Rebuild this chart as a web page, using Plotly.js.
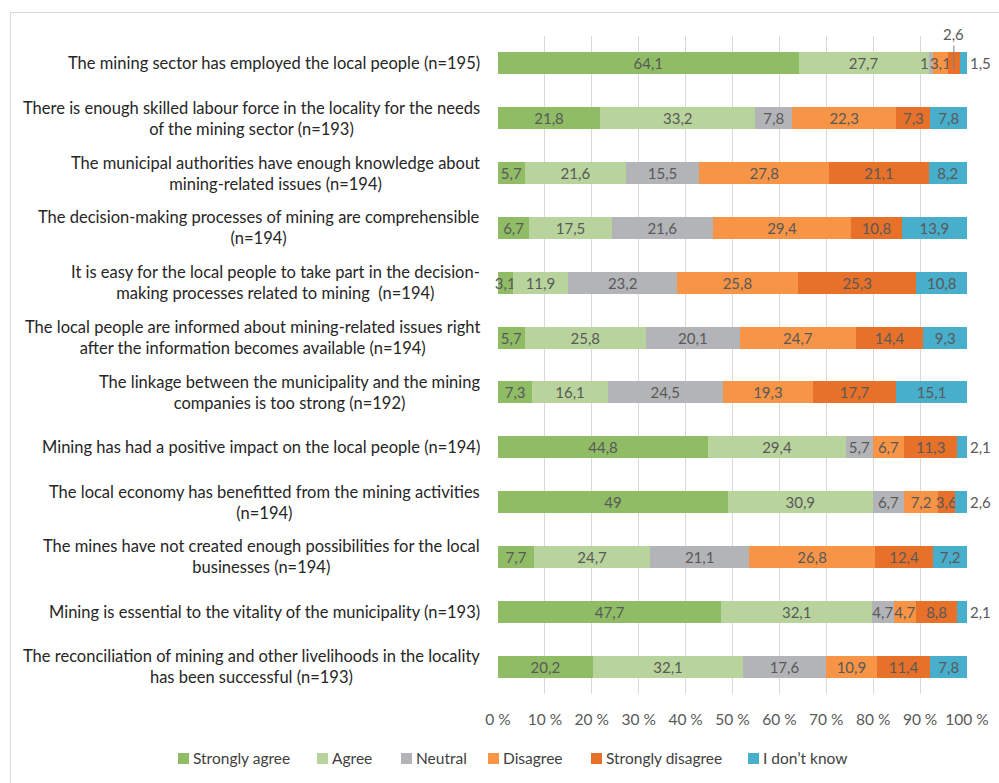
<!DOCTYPE html>
<html>
<head>
<meta charset="utf-8">
<script src="https://cdn.plot.ly/plotly-3.0.1.min.js"></script>
<style>
html,body{margin:0;padding:0;background:#fff;width:999px;height:783px;overflow:hidden;}
#frame{position:absolute;left:10px;top:12px;width:1000px;height:800px;border:1px solid #d9d9d9;box-sizing:border-box;}
#chart{position:absolute;left:0;top:0;width:999px;height:783px;}
</style>
</head>
<body>
<div id="frame"></div>
<div id="chart"></div>
<script>
const categories = [
  "The mining sector has employed the local people (n=195)",
  "There is enough skilled labour force in the locality for the needs<br>of the mining sector (n=193)",
  "The municipal authorities have enough knowledge about<br>mining-related issues (n=194)",
  "The decision-making processes of mining are comprehensible<br>(n=194)",
  "It is easy for the local people to take part in the decision-<br>making processes related to mining  (n=194)",
  "The local people are informed about mining-related issues right<br>after the information becomes available (n=194)",
  "The linkage between the municipality and the mining<br>companies is too strong (n=192)",
  "Mining has had a positive impact on the local people (n=194)",
  "The local economy has benefitted from the mining activities<br>(n=194)",
  "The mines have not created enough possibilities for the local<br>businesses (n=194)",
  "Mining is essential to the vitality of the municipality (n=193)",
  "The reconciliation of mining and other livelihoods in the locality<br>has been successful (n=193)"
];
const stronglyAgree    = [64.1, 21.8, 5.7, 6.7, 3.1, 5.7, 7.3, 44.8, 49, 7.7, 47.7, 20.2];
const agree            = [27.7, 33.2, 21.6, 17.5, 11.9, 25.8, 16.1, 29.4, 30.9, 24.7, 32.1, 32.1];
const neutral          = [1, 7.8, 15.5, 21.6, 23.2, 20.1, 24.5, 5.7, 6.7, 21.1, 4.7, 17.6];
const disagree         = [3.1, 22.3, 27.8, 29.4, 25.8, 24.7, 19.3, 6.7, 7.2, 26.8, 4.7, 10.9];
const stronglyDisagree = [2.6, 7.3, 21.1, 10.8, 25.3, 14.4, 17.7, 11.3, 3.6, 12.4, 8.8, 11.4];
const dontKnow         = [1.5, 7.8, 8.2, 13.9, 10.8, 9.3, 15.1, 2.1, 2.6, 7.2, 2.1, 7.8];
const seriesNames = ["Strongly agree", "Agree", "Neutral", "Disagree", "Strongly disagree", "I don\u2019t know"];
const xTicks = [0, 10, 20, 30, 40, 50, 60, 70, 80, 90, 100];

const seriesValues = [stronglyAgree, agree, neutral, disagree, stronglyDisagree, dontKnow];
const colors = ["#8fbc65", "#b8d49c", "#b3b4b7", "#f79446", "#e8712a", "#47aecb"];
const FONT = "Lato, 'Open Sans', sans-serif";
const fmt = v => String(v).replace('.', ',');

// plot area geometry (pixels)
const PL = 498, PR = 967, PT = 36, PB = 694;
const toPaperX = px => (px - PL) / (PR - PL);
const toPaperY = py => (PB - py) / (PB - PT);

const rowTotal = i => seriesValues.reduce((s, arr) => s + arr[i], 0);
const startOf = (si, i) => {
  let s = 0;
  for (let k = 0; k < si; k++) s += seriesValues[k][i];
  return 100 * s / rowTotal(i);
};

const traces = [];
const annotations = [];
const shapes = [];
const valFont = {family: FONT, size: 15, color: '#595959'};
seriesValues.forEach((vals, si) => {
  const texts = vals.map((v, i) => {
    if ((si === 5 || si === 4) && v < 3) return "";
    if (v < 2) return "";
    return fmt(v);
  });
  traces.push({
    type: 'bar', orientation: 'h', name: seriesNames[si],
    x: vals, y: categories.map((c, i) => i),
    marker: {color: colors[si], line: {width: 0}},
    width: 0.4,
    text: texts, textposition: 'inside', insidetextanchor: 'middle', textangle: 0,
    constraintext: 'none', cliponaxis: false,
    textfont: valFont,
    hoverinfo: 'skip', showlegend: false
  });
  vals.forEach((v, i) => {
    if (si < 4 && v < 2) {
      annotations.push({x: startOf(si, i), y: i, xref: 'x', yref: 'y', text: fmt(v), showarrow: false,
        xanchor: 'right', xshift: 2, font: valFont});
    }
  });
});

categories.forEach((c, i) => {
  const dk = dontKnow[i];
  if (dk < 3) {
    annotations.push({x: 100, y: i, xref: 'x', yref: 'y', text: fmt(dk), showarrow: false,
      xanchor: 'left', xshift: 1, font: valFont});
  }
  const sd = stronglyDisagree[i];
  if (sd < 3) {
    const mid = startOf(4, i) + 100 * sd / rowTotal(i) / 2;
    annotations.push({x: mid, y: i + 0.11, xref: 'x', yref: 'y', text: fmt(sd), showarrow: true,
      ax: 0, ay: -24, arrowhead: 0, arrowwidth: 1, arrowcolor: '#7f7f7f', standoff: 0,
      yanchor: 'bottom', font: valFont});
  }
  annotations.push({x: 0, y: i, xref: 'paper', yref: 'y', text: c, showarrow: false,
    xanchor: 'right', align: 'center', xshift: -16,
    font: {family: FONT, size: 16.5, color: '#262626'}});
});

// custom legend: square swatch + label, left to right
const legendX = [178, 317, 401, 488, 591, 748];
seriesNames.forEach((n, si) => {
  const x0 = legendX[si];
  shapes.push({type: 'rect', xref: 'paper', yref: 'paper',
    x0: toPaperX(x0), x1: toPaperX(x0 + 11), y0: toPaperY(764), y1: toPaperY(753),
    fillcolor: colors[si], line: {width: 0}});
  annotations.push({x: toPaperX(x0 + 13), y: toPaperY(758), xref: 'paper', yref: 'paper',
    xanchor: 'left', yanchor: 'middle', showarrow: false, text: n,
    font: {family: FONT, size: 15.5, color: '#404040'}});
});

const layout = {
  width: 999, height: 783,
  margin: {l: PL, r: 999 - PR, t: PT, b: 783 - PB},
  paper_bgcolor: 'rgba(0,0,0,0)', plot_bgcolor: 'rgba(0,0,0,0)',
  barmode: 'stack', barnorm: 'percent',
  showlegend: false,
  xaxis: {range: [0, 100.0001], tickvals: xTicks, ticktext: xTicks.map(t => t + ' %'),
    showgrid: true, gridcolor: '#d9d9d9', gridwidth: 1, zeroline: false, showline: false,
    ticks: '', ticklabelstandoff: 14, tickfont: {family: FONT, size: 15.5, color: '#595959'}, fixedrange: true},
  yaxis: {range: [11.5, -0.5], showticklabels: false, showgrid: false, zeroline: false, ticks: '', fixedrange: true},
  annotations: annotations,
  shapes: shapes
};
Plotly.newPlot('chart', traces, layout, {displayModeBar: false, staticPlot: true});
</script>
</body>
</html>
